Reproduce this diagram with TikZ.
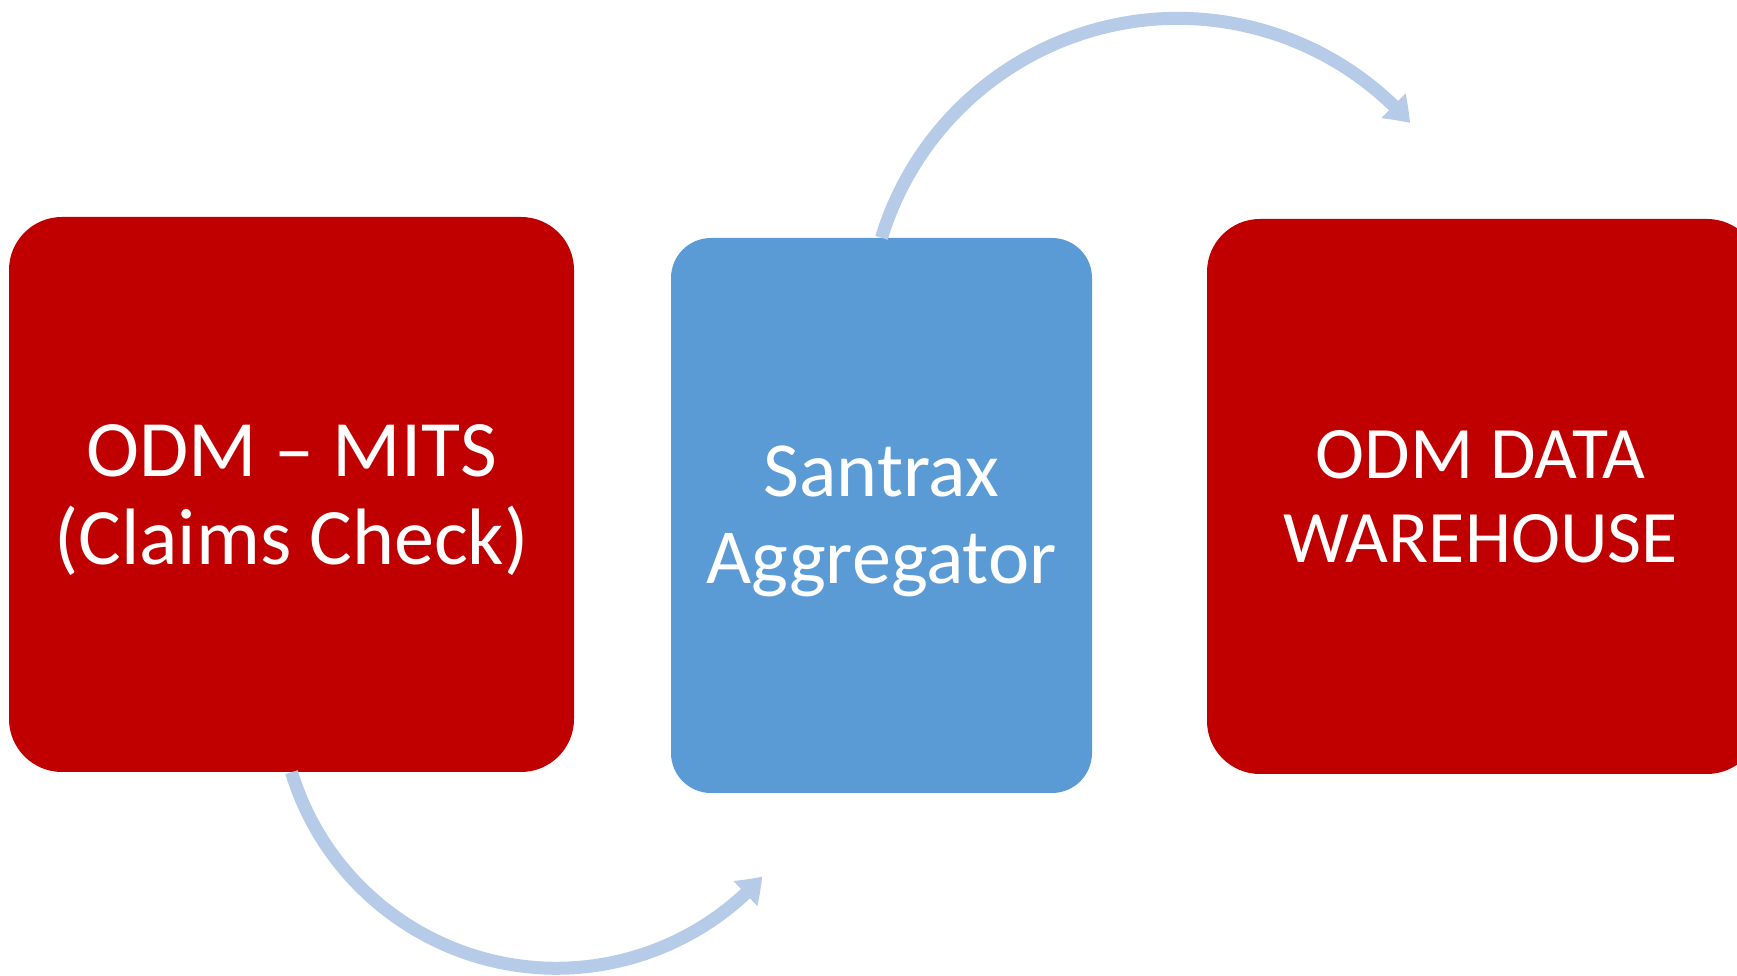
\documentclass[tikz,border=0pt]{standalone}
\usepackage{fontspec}
\setmainfont{Carlito}
\usetikzlibrary{arrows.meta,bending}
\definecolor{boxred}{RGB}{192,0,0}
\definecolor{boxblue}{RGB}{91,155,213}
\definecolor{arrowblue}{RGB}{182,203,232}
\begin{document}
\begin{tikzpicture}[x=1pt,y=1pt,
  card/.style={inner sep=0pt, minimum height=555pt},
  cardtext/.style={inner sep=0pt, text=white, align=center},
  flow/.style={draw=arrowblue, line width=13pt,
    -{Triangle[length=24pt,width=33pt,bend]}}]
\useasboundingbox (0,0) rectangle (1737,976);
\node[card, fill=boxred, rounded corners=53pt, minimum width=565pt] (claims) at (291.5,481.5) {};
\node[card, fill=boxblue, rounded corners=40pt, minimum width=421pt] (santrax) at (881.5,460.5) {};
\node[card, fill=boxred, rounded corners=53pt, minimum width=553pt] (odw) at (1483.5,479.5) {};
\node[cardtext, font=\fontsize{80}{88}\selectfont, yshift=-6pt] (claimstext) at (claims.center) {ODM – MITS\\(Claims Check)};
\node[cardtext, font=\fontsize{78}{87}\selectfont, yshift=-6pt] (santraxtext) at (santrax.center) {Santrax\\Aggregator};
\node[cardtext, font=\fontsize{74}{84}\selectfont, xshift=-3pt, yshift=0pt] (odwtext) at (odw.center) {ODM DATA\\WAREHOUSE};
\draw[flow] (santrax.north) arc[start angle=163, end angle=41.5, radius=310];
\draw[flow] (claims.south) arc[start angle=197, end angle=318, radius=277];
\end{tikzpicture}
\end{document}
